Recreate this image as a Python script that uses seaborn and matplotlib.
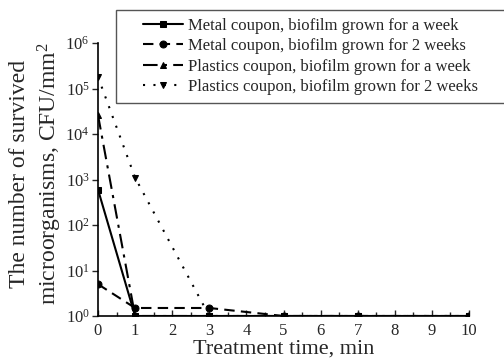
import pandas as pd
import matplotlib
matplotlib.use("Agg")
import matplotlib.pyplot as plt
import matplotlib.ticker as mticker
from matplotlib.patches import Rectangle
import seaborn as sns

# treatment time, min
time_min = [0, 1, 3, 5, 7, 10]

# survived microorganisms, CFU/mm^2
metal_week = [600, 1, 1, 1, 1, 1]
metal_2weeks = [5, 1.5, 1.5, 1, 1, 1]
plastics_week = [2.6e4, 1, 1, 1, 1, 1]
plastics_2weeks = [1.8e5, 1.1e3, 1, 1, 1, 1]

labels = [
    "Metal coupon, biofilm grown for a week",
    "Metal coupon, biofilm grown for 2 weeks",
    "Plastics coupon, biofilm grown for a week",
    "Plastics coupon, biofilm grown for 2 weeks",
]


def main():
    sns.set_theme(style="ticks")
    plt.rcParams["font.family"] = ["Liberation Serif", "DejaVu Serif"]
    plt.rcParams["mathtext.fontset"] = "custom"
    plt.rcParams["mathtext.rm"] = "Liberation Serif"
    plt.rcParams["mathtext.it"] = "Liberation Serif:italic"

    W, H = 504, 360
    fig = plt.figure(figsize=(W / 100, H / 100), dpi=100)
    ax = fig.add_axes([98 / W, 1 - 316 / H, 371 / W, 273 / H])

    series = [metal_week, metal_2weeks, plastics_week, plastics_2weeks]
    markers = ["s", "o", "^", "v"]
    styles = [
        "-",
        (0, (5, 3)),
        (0, (7, 3, 1.5, 3)),
        (0, (1, 4)),
    ]

    for vals, lab, mk, ls in zip(series, labels, markers, styles):
        df = pd.DataFrame({"t": time_min, "n": vals})
        sns.lineplot(data=df, x="t", y="n", ax=ax, color="black",
                     marker=mk, markersize=5, markeredgecolor="black",
                     linewidth=1.5, linestyle=ls, label=lab)

    ax.set_yscale("log")
    ax.set_xlim(0, 10)
    ax.set_ylim(1, 1e6)
    ax.xaxis.set_major_locator(mticker.MultipleLocator(1))
    ax.xaxis.set_minor_locator(mticker.MultipleLocator(0.5))
    ax.yaxis.set_major_locator(mticker.LogLocator(base=10, numticks=10))
    ax.yaxis.set_minor_locator(mticker.NullLocator())
    ax.yaxis.set_major_formatter(mticker.LogFormatterMathtext())
    ax.tick_params(axis="x", direction="in", length=4, width=1, labelsize=12, pad=5)
    ax.tick_params(axis="x", which="minor", direction="in", length=3, width=1)
    ax.tick_params(axis="y", direction="out", length=4, width=1, labelsize=12, pad=2)
    for s in ["left", "bottom"]:
        ax.spines[s].set_linewidth(1.2)
        ax.spines[s].set_color("black")
    sns.despine(ax=ax)

    ax.set_xlabel("Treatment time, min", fontsize=16, labelpad=0)
    ax.xaxis.set_label_coords(0.5, -0.088)
    ax.set_ylabel("The number of survived\nmicroorganisms, CFU/mm$^2$",
                  fontsize=17, linespacing=1.25)
    ax.yaxis.set_label_coords(-0.092, 0.52)

    leg = ax.legend(loc="upper left", bbox_to_anchor=(143 / W, 1 - 18 / H),
                    bbox_transform=fig.transFigure, frameon=False,
                    fontsize=12, handlelength=2.4, handletextpad=0.3,
                    labelspacing=0.26, borderpad=0, borderaxespad=0)

    # legend box reaches past the right edge of the figure
    fig.patches.append(Rectangle((116 / W, 1 - 103 / H), 420 / W, 93 / H,
                                 transform=fig.transFigure, fill=False,
                                 edgecolor="#555555", linewidth=1.0))

    fig.savefig("out.png", dpi=100)


if __name__ == "__main__":
    main()
